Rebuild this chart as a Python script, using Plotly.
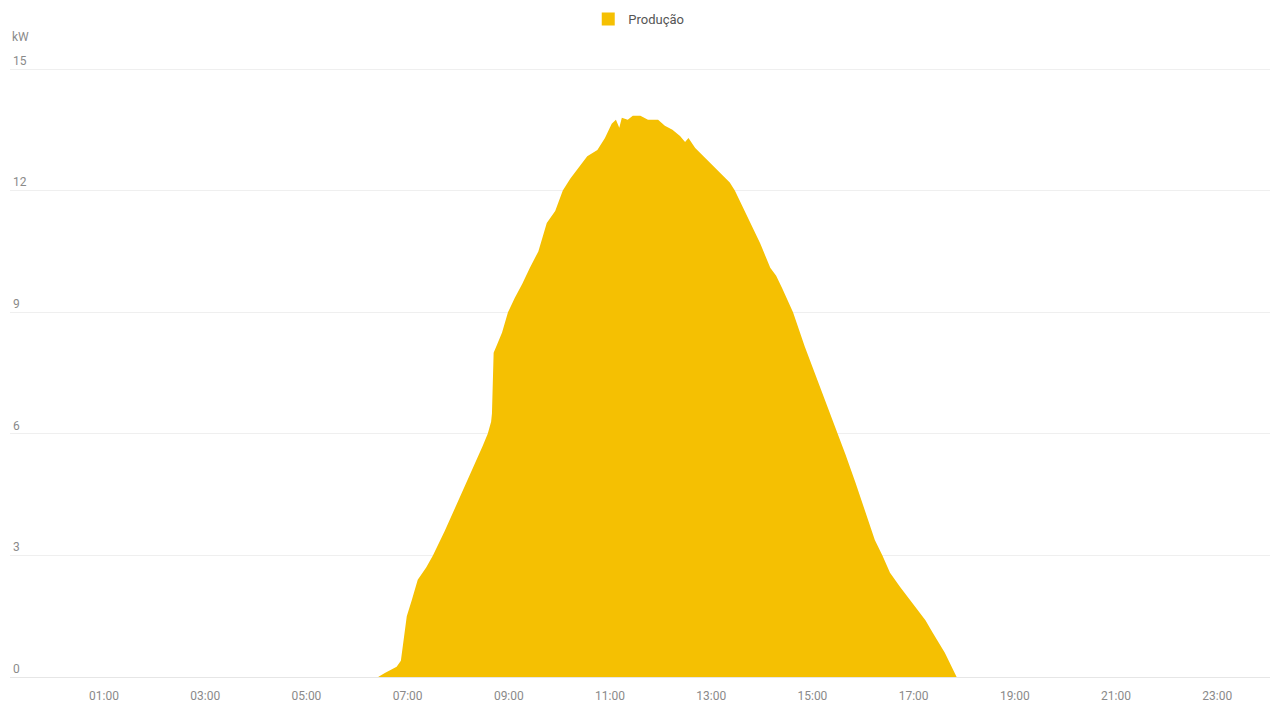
import plotly.graph_objects as go

# Solar production over the day (time HH:MM, power kW)
times = [
    "00:00", "06:25", "06:33", "06:47", "06:52", "06:56", "06:59", "07:05",
    "07:12", "07:22", "07:30", "07:44", "07:56", "08:08", "08:20", "08:29",
    "08:35", "08:39", "08:40", "08:42", "08:46", "08:52", "08:59", "09:07",
    "09:16", "09:25", "09:35", "09:41", "09:45", "09:55", "10:04", "10:13",
    "10:22", "10:33", "10:45", "10:54", "11:02", "11:07", "11:11", "11:14",
    "11:21", "11:27", "11:36", "11:45", "11:57", "12:05", "12:14", "12:23",
    "12:29", "12:33", "12:41", "12:53", "13:05", "13:13", "13:22", "13:28",
    "13:37", "13:46", "13:58", "14:10", "14:17", "14:24", "14:37", "14:51",
    "15:03", "15:15", "15:27", "15:39", "15:51", "16:02", "16:14", "16:23",
    "16:32", "16:44", "17:02", "17:14", "17:23", "17:37", "17:51", "24:00",
]
power_kw = [
    0.0, 0.0, 0.1, 0.25, 0.4, 1.0, 1.5, 1.9,
    2.4, 2.7, 3.0, 3.6, 4.15, 4.7, 5.25, 5.7,
    6.0, 6.3, 6.5, 8.0, 8.2, 8.5, 9.0, 9.35,
    9.7, 10.1, 10.5, 10.95, 11.2, 11.5, 12.0, 12.3,
    12.55, 12.85, 13.0, 13.3, 13.65, 13.75, 13.55, 13.8,
    13.75, 13.85, 13.85, 13.75, 13.75, 13.6, 13.5, 13.35,
    13.2, 13.3, 13.05, 12.8, 12.55, 12.4, 12.2, 12.0,
    11.6, 11.2, 10.7, 10.1, 9.9, 9.6, 9.0, 8.15,
    7.5, 6.85, 6.2, 5.5, 4.8, 4.1, 3.38, 3.0,
    2.57, 2.22, 1.73, 1.4, 1.08, 0.6, 0.0, 0.0,
]
tick_hours = [1, 3, 5, 7, 9, 11, 13, 15, 17, 19, 21, 23]
tick_labels = ["01:00", "03:00", "05:00", "07:00", "09:00", "11:00",
               "13:00", "15:00", "17:00", "19:00", "21:00", "23:00"]
y_ticks = [0, 3, 6, 9, 12, 15]

series_name = "Produção"
fill_color = "#F5C002"
font_family = "Roboto, Arial, sans-serif"


def to_hours(t):
    h, m = t.split(":")
    return int(h) + int(m) / 60.0


hours = [to_hours(t) for t in times]

fig = go.Figure()
fig.add_trace(go.Scatter(
    x=hours, y=power_kw, mode="lines", line=dict(width=0, color=fill_color),
    fill="tozeroy", fillcolor=fill_color, name=series_name, showlegend=False,
    hoverinfo="x+y",
))
# legend entry drawn as a filled square
fig.add_trace(go.Scatter(
    x=[None], y=[None], mode="markers", name=series_name,
    marker=dict(symbol="square", size=13, color=fill_color),
))

fig.update_layout(
    width=1284, height=703,
    margin=dict(l=10, r=14, t=67, b=26, autoexpand=False),
    paper_bgcolor="white", plot_bgcolor="white",
    font=dict(family=font_family, size=12, color="#8a8a8a"),
    showlegend=True,
    legend=dict(orientation="h", x=0.499, xanchor="center",
                yref="container", y=1 - 19 / 703, yanchor="middle",
                font=dict(size=13, color="#555555"), itemwidth=30,
                bgcolor="rgba(0,0,0,0)"),
    xaxis=dict(
        range=[-0.858, 24.043], tickvals=tick_hours, ticktext=tick_labels,
        showgrid=False, zeroline=False, showline=True, linecolor="#e6e6e6",
        linewidth=1, ticks="", ticklabelstandoff=8, automargin=False,
        tickfont=dict(size=12, color="#8a8a8a"),
    ),
    yaxis=dict(
        range=[0, 15.05], tickvals=y_ticks, showgrid=True, gridcolor="#efefef",
        gridwidth=1, zeroline=False, showline=False, ticks="",
        ticklabelposition="inside top", ticklabeloverflow="allow",
        automargin=False, tickfont=dict(size=12, color="#8a8a8a"),
    ),
    annotations=[dict(
        text="kW", xref="paper", yref="paper", x=0.0, y=1.0, yshift=30,
        xanchor="left", yanchor="middle", showarrow=False,
        font=dict(size=12, color="#8a8a8a"),
    )],
)

fig.write_html("out.html")
